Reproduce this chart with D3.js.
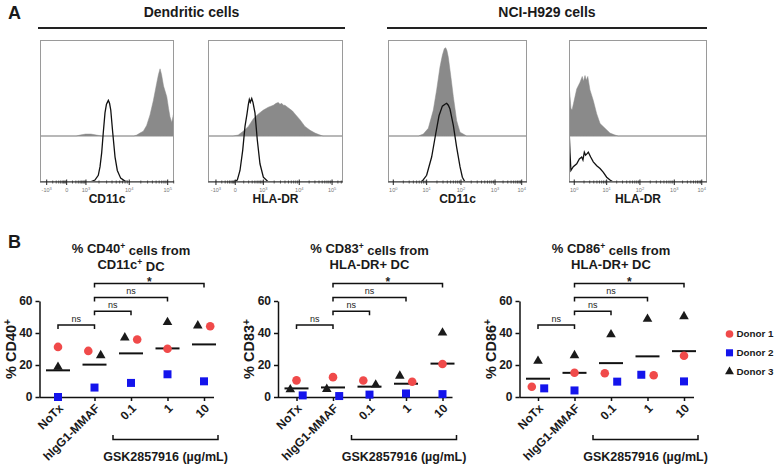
<!DOCTYPE html>
<html><head><meta charset="utf-8">
<script src="https://cdn.jsdelivr.net/npm/d3@7"></script>
<style>
body{margin:0;background:#fff}
svg{display:block}
text{font-family:"Liberation Sans",Arial,sans-serif}
</style>
</head><body>
<svg id="c" width="776" height="469"></svg>
<script>
// ================= DATA =================
// Panel A histograms: [channel (0-1000), count (% of panel height)]
const dcCd11cIsotype = [[0,0],[373,0],[410,2],[435,7],[448,16],[460,30],[472,51],[485,72],[496,81],[510,85],[519,82],[528,75],[543,51],[560,26],[577,12],[602,4],[634,1],[672,0],[1000,0]];
const dcCd11cStained = [[0,0],[270,0],[300,1],[340,2],[380,2],[420,1],[460,0],[700,0],[722,1],[746,3],[771,5],[796,11],[821,22],[846,37],[871,55],[884,64],[896,70],[907,64],[922,52],[946,41],[959,29],[970,20],[983,14],[995,22],[1000,19]];
const dcHladrIsotype = [[0,0],[185,0],[217,2],[237,12],[257,33],[274,58],[289,71],[299,81],[306,86],[313,83],[324,87],[333,83],[348,72],[365,44],[385,19],[410,5],[447,0],[1000,0]];
const dcHladrStained = [[0,0],[185,0],[224,1],[261,5],[299,10],[336,18],[373,23],[410,27],[447,30],[484,32],[504,34],[521,35],[533,33],[546,34],[559,32],[570,32],[589,30],[607,28],[626,26],[644,23],[681,17],[718,10],[756,6],[793,3],[830,1],[852,0],[1000,0]];
const mmCd11cIsotype = [[0,0],[242,0],[278,7],[314,26],[343,50],[367,69],[391,79],[410,81],[422,82],[434,80],[446,76],[470,59],[494,36],[518,16],[535,5],[554,0],[1000,0]];
const mmCd11cStained = [[0,0],[218,0],[254,2],[290,8],[326,27],[350,48],[374,72],[391,84],[405,91],[415,92],[424,89],[434,82],[453,61],[470,41],[494,16],[518,4],[554,1],[566,0],[1000,0]];
const mmHladrIsotype = [[0,0],[2,50],[7,31],[14,12],[31,16],[56,19],[75,24],[92,26],[101,23],[111,31],[120,28],[128,29],[140,31],[157,26],[176,21],[201,17],[225,14],[249,10],[273,5],[297,2],[321,0],[1000,0]];
const mmHladrStained = [[0,0],[2,50],[7,42],[14,29],[22,27],[33,34],[56,49],[80,56],[96,62],[105,57],[116,63],[125,58],[136,62],[152,48],[176,37],[201,23],[225,13],[261,8],[297,3],[333,1],[357,0],[1000,0]];

// axis tick channels and labels for each histogram
const biexLabels = [["-10","3"],["0",""],["10","3"],["10","4"],["10","5"]];
const logLabels  = [["10","0"],["10","1"],["10","2"],["10","3"],["10","4"]];
const h1Ticks = [50,199,343,666,953];
const h2Ticks = [59,202,410,676,919];
const h3Ticks = [38,278,525,770,962];
const h4Ticks = [38,273,514,763,962];
const histMarkers = ["CD11c","HLA-DR","CD11c","HLA-DR"];
const groupTitles = ["Dendritic cells","NCI-H929 cells"];

// Panel B
const categories = ["NoTx","hIgG1-MMAF","0.1","1","10"];
const donors = ["Donor 1","Donor 2","Donor 3"];
const cd40Donor1 = [31.3, 28.8, 35.9, 30.2, 44.2];
const cd40Donor2 = [0.0, 5.9, 8.8, 14.2, 9.8];
const cd40Donor3 = [18.7, 26.0, 37.1, 46.7, 44.6];
const cd83Donor1 = [10.4, 12.4, 10.3, 9.5, 20.6];
const cd83Donor2 = [1.0, 0.6, 1.5, 2.2, 1.8];
const cd83Donor3 = [4.7, 4.9, 7.6, 13.2, 40.2];
const cd86Donor1 = [6.4, 15.2, 14.8, 13.6, 25.8];
const cd86Donor2 = [5.4, 4.1, 9.6, 13.9, 9.75];
const cd86Donor3 = [22.5, 26.0, 39.1, 48.7, 50.4];
const yTicks = [0, 20, 40, 60];
const sigComparisons = [["NoTx","hIgG1-MMAF","ns"],["hIgG1-MMAF","0.1","ns"],["hIgG1-MMAF","1","ns"],["hIgG1-MMAF","10","*"]];
const treatmentLabel = "GSK2857916 (µg/mL)";

// ================= DRAW =================
const svg = d3.select("#c");
const FONT = "Liberation Sans, Arial, sans-serif";

function rich(sel, parts, supSize) {
  let shifted = false;
  parts.forEach(([t, sup]) => {
    const ts = sel.append("tspan").text(t);
    if (sup && !shifted) { ts.attr("dy", "-0.45em").attr("font-size", supSize); shifted = true; }
    else if (!sup && shifted) { ts.attr("dy", "0.45em"); shifted = false; }
  });
}

// ---- Panel A ----
svg.append("text").attr("x", 8).attr("y", 19).attr("font-size", 18).attr("font-weight", "bold").attr("fill", "#1a1a1a").text("A");

const groupLayout = [{x1: 38, x2: 345}, {x1: 387, x2: 707}];
groupTitles.forEach((t, i) => {
  const gl = groupLayout[i];
  svg.append("text").attr("x", (gl.x1 + gl.x2) / 2).attr("y", 17).attr("text-anchor", "middle")
    .attr("font-size", 14).attr("font-weight", "bold").attr("fill", "#1a1a1a").text(t);
  svg.append("line").attr("x1", gl.x1).attr("x2", gl.x2).attr("y1", 28).attr("y2", 28)
    .attr("stroke", "#222").attr("stroke-width", 2.2);
});

const hists = [
  {x: 40, w: 134, stained: dcCd11cStained, iso: dcCd11cIsotype, ticks: h1Ticks, labels: biexLabels},
  {x: 208, w: 135, stained: dcHladrStained, iso: dcHladrIsotype, ticks: h2Ticks, labels: biexLabels},
  {x: 388, w: 139, stained: mmCd11cStained, iso: mmCd11cIsotype, ticks: h3Ticks, labels: logLabels},
  {x: 569, w: 138, stained: mmHladrStained, iso: mmHladrIsotype, ticks: h4Ticks, labels: logLabels}
];
const boxTop = 40, boxBottom = 182, midBase = 136;

hists.forEach((h, i) => {
  const g = svg.append("g");
  const x = d3.scaleLinear([0, 1000], [h.x, h.x + h.w]);
  const yTop = d3.scaleLinear([0, 100], [midBase, midBase - 96]);
  const yBot = d3.scaleLinear([0, 100], [boxBottom, boxBottom - 96]);
  const clipId = "clip" + i;
  svg.append("clipPath").attr("id", clipId).append("rect")
    .attr("x", h.x).attr("y", boxTop).attr("width", h.w).attr("height", boxBottom - boxTop);
  const cg = g.append("g").attr("clip-path", `url(#${clipId})`);
  cg.append("line").attr("x1", h.x).attr("x2", h.x + h.w).attr("y1", midBase).attr("y2", midBase)
    .attr("stroke", "#b8b8b8").attr("stroke-width", 1);
  cg.append("path").datum(h.stained)
    .attr("d", d3.area().x(d => x(d[0])).y0(midBase).y1(d => yTop(d[1])))
    .attr("fill", "#8a8a8a").attr("stroke", "#8a8a8a").attr("stroke-width", 0.5);
  cg.append("path").datum(h.iso)
    .attr("d", d3.line().x(d => x(d[0])).y(d => yBot(d[1])))
    .attr("fill", "none").attr("stroke", "#111").attr("stroke-width", 1.3);
  g.append("rect").attr("x", h.x + 0.5).attr("y", boxTop + 0.5).attr("width", h.w - 1).attr("height", boxBottom - boxTop - 1)
    .attr("fill", "none").attr("stroke", "#9a9a9a").attr("stroke-width", 1);
  g.append("line").attr("x1", h.x).attr("x2", h.x + h.w).attr("y1", boxBottom).attr("y2", boxBottom)
    .attr("stroke", "#333").attr("stroke-width", 1);
  const minor = [];
  for (let k = 0; k < h.ticks.length - 1; k++) {
    const a = h.ticks[k], b = h.ticks[k + 1];
    for (let m = 2; m <= 9; m++) minor.push(a + (b - a) * Math.log10(m));
  }
  const step = h.ticks[1] - h.ticks[0];
  for (let m = 2; m <= 9; m++) {
    const v = h.ticks[h.ticks.length - 1] + step * Math.log10(m);
    if (v <= 1000) minor.push(v);
  }
  g.selectAll(".mn").data(minor).join("line")
    .attr("x1", d => x(d)).attr("x2", d => x(d)).attr("y1", boxBottom - 1.5).attr("y2", boxBottom + 1.5)
    .attr("stroke", "#333").attr("stroke-width", 0.8);
  g.selectAll(".mj").data(h.ticks).join("line")
    .attr("x1", d => x(d)).attr("x2", d => x(d)).attr("y1", boxBottom - 2.5).attr("y2", boxBottom + 3)
    .attr("stroke", "#222").attr("stroke-width", 1);
  h.ticks.forEach((t, k) => {
    const tx = g.append("text").attr("x", x(t)).attr("y", 192).attr("text-anchor", "middle")
      .attr("font-size", 5.5).attr("fill", "#777");
    const [base, exp] = h.labels[k];
    tx.append("tspan").text(base);
    if (exp) tx.append("tspan").attr("dy", "-0.45em").attr("font-size", 4).text(exp);
  });
  g.append("text").attr("x", h.x + h.w / 2).attr("y", 203).attr("text-anchor", "middle")
    .attr("font-size", 12).attr("font-weight", "bold").attr("fill", "#1a1a1a").text(histMarkers[i]);
});

// ---- Panel B ----
svg.append("text").attr("x", 8).attr("y", 248).attr("font-size", 18).attr("font-weight", "bold").attr("fill", "#1a1a1a").text("B");

const y = d3.scaleLinear([0, 60], [397, 301]);
const colors = ["#f04a4a", "#1414ec", "#1a1a1a"];
const symbols = [d3.symbolCircle, d3.symbolSquare, d3.symbolTriangle];
const symSize = [58, 64, 40];

const panels = [
  {left: 39.5, marker: "CD40", title2: [["CD11c", false], ["+", true], [" DC", false]], data: [cd40Donor1, cd40Donor2, cd40Donor3]},
  {left: 278, marker: "CD83", title2: [["HLA-DR+ DC", false]], data: [cd83Donor1, cd83Donor2, cd83Donor3]},
  {left: 519.5, marker: "CD86", title2: [["HLA-DR+ DC", false]], data: [cd86Donor1, cd86Donor2, cd86Donor3]}
];

function dodge(points, thresholdPx) {
  const s = points.slice().sort((a, b) => b.v - a.v);
  const groups = [];
  s.forEach((p, i) => {
    if (i > 0 && (y(p.v) - y(s[i - 1].v)) < thresholdPx) groups[groups.length - 1].push(p);
    else groups.push([p]);
  });
  groups.forEach(gr => {
    const n = gr.length;
    gr.forEach((p, k) => { p.slot = n === 1 ? 0 : (n === 2 ? (k === 0 ? -1 : 1) : k - 1); });
  });
  return points;
}

panels.forEach(p => {
  const g = svg.append("g");
  const x = d3.scalePoint(categories, [p.left + 18.5, p.left + 18.5 + 4 * 36.5]);
  const right = p.left + 174.5;
  const cx = p.left + 18.5 + 2 * 36.5;

  const t1 = g.append("text").attr("x", cx).attr("y", 252.5).attr("text-anchor", "middle")
    .attr("font-size", 13).attr("font-weight", "bold").attr("fill", "#1a1a1a");
  rich(t1, [["% " + p.marker, false], ["+", true], [" cells from", false]], 8.5);
  const t2 = g.append("text").attr("x", cx).attr("y", 268.5).attr("text-anchor", "middle")
    .attr("font-size", 13).attr("font-weight", "bold").attr("fill", "#1a1a1a");
  rich(t2, p.title2, 8.5);

  const ya = g.append("g").attr("transform", `translate(${p.left},0)`)
    .call(d3.axisLeft(y).tickValues(yTicks).tickSize(4).tickSizeOuter(0).tickPadding(3));
  ya.select(".domain").attr("stroke", "#111").attr("stroke-width", 1.5);
  ya.selectAll(".tick line").attr("stroke", "#111").attr("stroke-width", 1.5);
  ya.selectAll(".tick text").attr("font-size", 12).attr("font-weight", "bold").attr("font-family", FONT).attr("fill", "#1a1a1a");

  const yl = g.append("text").attr("transform", `translate(${p.left - 24},349) rotate(-90)`)
    .attr("text-anchor", "middle").attr("font-size", 14.5).attr("font-weight", "bold").attr("fill", "#1a1a1a");
  rich(yl, [["% " + p.marker, false], ["+", true]], 10);

  g.append("line").attr("x1", p.left).attr("x2", right).attr("y1", 397.5).attr("y2", 397.5)
    .attr("stroke", "#111").attr("stroke-width", 1.5);
  const xa = g.append("g").attr("transform", "translate(0,397)")
    .call(d3.axisBottom(x).tickSize(4).tickSizeOuter(0).tickFormat(""));
  xa.select(".domain").remove();
  xa.selectAll(".tick line").attr("stroke", "#111").attr("stroke-width", 1.5);
  categories.forEach(c => {
    g.append("text").attr("transform", `translate(${x(c) + 3},406) rotate(-45)`)
      .attr("text-anchor", "end").attr("dy", "0.35em")
      .attr("font-size", 12).attr("font-weight", "bold").attr("fill", "#1a1a1a").text(c);
  });

  const bx1 = x("0.1") - 18, bx2 = x("10") + 14;
  g.append("path").attr("d", `M${bx1},435V439.5H${bx2}V435`).attr("fill", "none")
    .attr("stroke", "#111").attr("stroke-width", 1.5);
  g.append("text").attr("x", (bx1 + bx2) / 2).attr("y", 461).attr("text-anchor", "middle")
    .attr("font-size", 12.5).attr("font-weight", "bold").attr("fill", "#1a1a1a").text(treatmentLabel);

  sigComparisons.forEach(([a, b, lab], i) => {
    const by = 325 - i * 13.8;
    g.append("path").attr("d", `M${x(a)},${by + 4}V${by}H${x(b)}V${by + 4}`)
      .attr("fill", "none").attr("stroke", "#111").attr("stroke-width", 1.5);
    g.append("text").attr("x", (x(a) + x(b)) / 2).attr("y", lab === "*" ? by + 2 : by - 3.5)
      .attr("text-anchor", "middle").attr("font-size", lab === "*" ? 12 : 9)
      .attr("font-weight", lab === "*" ? "bold" : "normal").attr("fill", "#222").text(lab);
  });

  categories.forEach((c, ci) => {
    const pts = dodge(p.data.map((arr, di) => ({v: arr[ci], donor: di})), 8.8);
    const m = d3.mean(pts, d => d.v);
    g.append("line").attr("x1", x(c) - 12).attr("x2", x(c) + 12).attr("y1", y(m)).attr("y2", y(m))
      .attr("stroke", "#111").attr("stroke-width", 2);
    pts.forEach(d => {
      g.append("path").attr("d", d3.symbol(symbols[d.donor], symSize[d.donor])())
        .attr("transform", `translate(${x(c) + d.slot * 6.2},${y(d.v)})`)
        .attr("fill", colors[d.donor]);
    });
  });
});

// legend
donors.forEach((d, i) => {
  const ly = 334 + i * 18.8;
  svg.append("path").attr("d", d3.symbol(symbols[i], [46, 50, 34][i])())
    .attr("transform", `translate(729.5,${ly})`).attr("fill", colors[i]);
  svg.append("text").attr("x", 736.5).attr("y", ly).attr("dy", "0.35em")
    .attr("font-size", 9.8).attr("font-weight", "bold").attr("fill", "#1a1a1a").text(d);
});
</script>
</body></html>
